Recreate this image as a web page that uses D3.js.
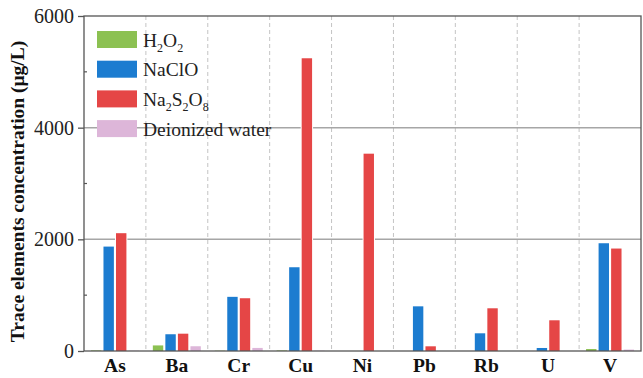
<!DOCTYPE html>
<html><head><meta charset="utf-8">
<script src="https://cdn.jsdelivr.net/npm/d3@7"></script>
<style>body{margin:0;background:#fff}svg{display:block}</style>
</head><body><svg id="c" width="643" height="378"></svg>
<script>
const categories = ["As","Ba","Cr","Cu","Ni","Pb","Rb","U","V"];
const seriesNames = ["H2O2","NaClO","Na2S2O8","Deionized water"];
const h2o2   = [10, 100, 5, 10, 0, 0, 0, 0, 35];
const naclo  = [1870, 300, 970, 1500, 0, 800, 317, 54, 1930];
const na2s2o8= [2110, 310, 945, 5243, 3534, 84, 765, 550, 1835];
const water  = [5, 85, 55, 5, 0, 0, 0, 0, 25];
const yTicks = [0, 2000, 4000, 6000];
const yMinor = [1000, 3000, 5000];
const colors = ["#8cc152","#1c7cd0","#e54646","#ddb6d9"];

const series = [h2o2, naclo, na2s2o8, water];
const svg = d3.select("#c");
const L = 84, R = 641, T = 16, B = 351;
const x = d3.scaleBand().domain(categories).range([L, R]);
const xs = d3.scaleBand().domain(d3.range(4)).range([0, 48]).paddingInner(0.17).paddingOuter(0);
const y = d3.scaleLinear().domain([0, 6000]).range([B, T]);
const serif = "'Liberation Serif','Times New Roman',serif";

// dashed separators
svg.append("g").selectAll("line").data(categories.slice(1)).join("line")
  .attr("x1", d => x(d)).attr("x2", d => x(d)).attr("y1", T).attr("y2", B)
  .attr("stroke", "#c4c4c4").attr("stroke-width", 1).attr("stroke-dasharray", "4,3");
// gridlines
svg.append("g").selectAll("line").data([2000, 4000]).join("line")
  .attr("x1", L).attr("x2", R).attr("y1", d => y(d)).attr("y2", d => y(d))
  .attr("stroke", "#a6a6a6").attr("stroke-width", 1.5);

// bars
const gb = svg.append("g");
series.forEach((vals, si) => {
  const off = (x.bandwidth() - 48) / 2;
  gb.append("g").selectAll("rect").data(vals.map((v, i) => ({v, c: categories[i]}))).join("rect")
    .attr("x", d => x(d.c) + off + xs(si))
    .attr("width", xs.bandwidth())
    .attr("y", d => y(d.v))
    .attr("height", d => B - y(d.v))
    .attr("fill", colors[si])
    .attr("stroke", "#fff").attr("stroke-width", 2).attr("paint-order", "stroke");
});

// frame
svg.append("rect").attr("x", L).attr("y", T).attr("width", R - L).attr("height", B - T)
  .attr("fill", "none").attr("stroke", "#555").attr("stroke-width", 1.3);

// y axis
const yAxis = d3.axisLeft(y).tickValues(yTicks).tickFormat(d3.format("d")).tickSize(6).tickPadding(4);
const ga = svg.append("g").attr("transform", `translate(${L},0)`).call(yAxis);
ga.select(".domain").remove();
ga.selectAll("line").attr("stroke", "#555").attr("stroke-width", 1.3);
ga.selectAll("text").attr("font-family", serif).attr("font-size", 20).attr("fill", "#222");
svg.append("g").selectAll("line").data(yMinor).join("line")
  .attr("x1", L).attr("x2", L + 3).attr("y1", d => y(d)).attr("y2", d => y(d))
  .attr("stroke", "#555").attr("stroke-width", 1.2);

// x labels
const gx = svg.append("g").attr("transform", `translate(0,${B})`).call(d3.axisBottom(x).tickSize(0).tickPadding(7));
gx.select(".domain").remove();
gx.selectAll("text").attr("font-family", serif).attr("font-size", 19.5).attr("font-weight", "bold").attr("fill", "#111");

// y title
svg.append("text").attr("transform", `translate(24,${(T + B) / 2 + 8}) rotate(-90)`)
  .attr("text-anchor", "middle").attr("font-family", serif).attr("font-weight", "bold")
  .attr("font-size", 19.5).attr("fill", "#111").text("Trace elements concentration (μg/L)");

// legend
const leg = svg.append("g");
const labels = [
  [["H",""],["2","sub"],["O",""],["2","sub"]],
  [["NaClO",""]],
  [["Na",""],["2","sub"],["S",""],["2","sub"],["O",""],["8","sub"]],
  [["Deionized water",""]]
];
seriesNames.forEach((n, i) => {
  const yy = 31 + i * 29.7;
  leg.append("rect").attr("x", 97).attr("y", yy).attr("width", 40).attr("height", 17).attr("fill", colors[i]);
  const t = leg.append("text").attr("x", 143).attr("y", yy + 15.5).attr("font-family", serif)
    .attr("font-size", 19.5).attr("fill", "#222");
  labels[i].forEach(([s, k]) => {
    const ts = t.append("tspan").text(s);
    if (k === "sub") ts.attr("font-size", 12).attr("dy", 5);
    else if (t.selectAll("tspan").size() > 1) ts.attr("dy", -5);
  });
});
</script></body></html>
